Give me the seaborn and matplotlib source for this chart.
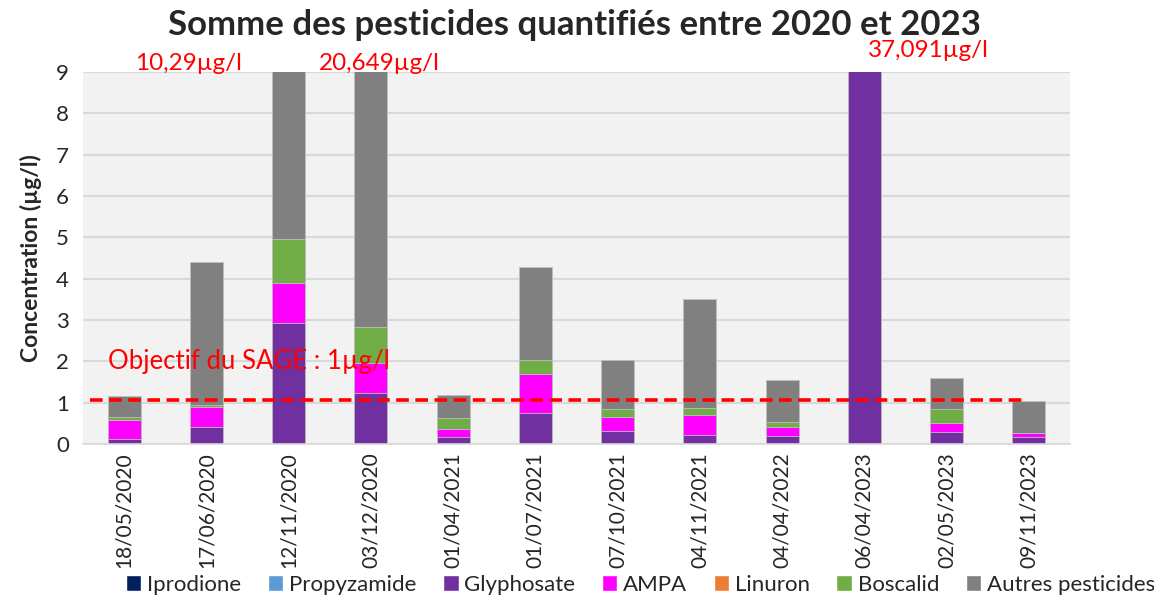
import numpy as np
import pandas as pd
import matplotlib
matplotlib.use('Agg')
import matplotlib.pyplot as plt
import seaborn as sns
from matplotlib.patches import Patch

sns.set_style('white')
plt.rcParams['font.family'] = ['Lato', 'DejaVu Sans']

# Data (µg/l)
dates = ['18/05/2020', '17/06/2020', '12/11/2020', '03/12/2020', '01/04/2021', '01/07/2021',
         '07/10/2021', '04/11/2021', '04/04/2022', '06/04/2023', '02/05/2023', '09/11/2023']
iprodione = [0, 0, 0, 0, 0, 0, 0, 0, 0, 0, 0, 0]
propyzamide = [0, 0, 0, 0, 0, 0, 0, 0, 0, 0, 0, 0]
glyphosate = [0.11, 0.42, 2.92, 1.23, 0.16, 0.74, 0.32, 0.22, 0.20, 37.091, 0.30, 0.16]
ampa = [0.47, 0.47, 0.98, 0.74, 0.21, 0.96, 0.34, 0.47, 0.20, 0, 0.20, 0.10]
linuron = [0, 0, 0, 0, 0, 0, 0, 0, 0, 0, 0, 0]
boscalid = [0.07, 0.05, 1.05, 0.87, 0.26, 0.33, 0.18, 0.17, 0.12, 0, 0.34, 0]
autres = [0.51, 3.46, 5.34, 17.809, 0.56, 2.24, 1.19, 2.64, 1.03, 0, 0.75, 0.79]

objectif = 1.07
totals_text = ['10,29µg/l', '20,649µg/l', '37,091µg/l']
totals_pos = [(0.78, 9.2), (3.10, 9.2), (9.78, 9.52)]

series = ['Iprodione', 'Propyzamide', 'Glyphosate', 'AMPA', 'Linuron', 'Boscalid', 'Autres pesticides']
colors = ['#002060', '#5B9BD5', '#7030A0', '#FF00FF', '#ED7D31', '#70AD47', '#808080']

df = pd.DataFrame({'Date': dates, 'Iprodione': iprodione, 'Propyzamide': propyzamide,
                   'Glyphosate': glyphosate, 'AMPA': ampa, 'Linuron': linuron,
                   'Boscalid': boscalid, 'Autres pesticides': autres})
cum = df[series].cumsum(axis=1)
cum['Date'] = df['Date']

fig = plt.figure(figsize=(11.54, 5.97), dpi=100)
ax = fig.add_axes([0.0719, 0.2563, 0.8553, 0.6231])
ax.set_facecolor('#F2F2F2')

# stacked bars: draw cumulative heights from the top layer down
for s, c in reversed(list(zip(series, colors))):
    sns.barplot(data=cum, x='Date', y=s, color=c, width=0.4, saturation=1,
                edgecolor='#BFBFBF', linewidth=0.6, ax=ax, order=dates, zorder=2)

ax.plot([-0.41, 10.92], [objectif, objectif], color='#FF0000', linestyle=(0, (3.5, 1.8)),
        linewidth=2.6, zorder=3)
ax.text(-0.2, 2.0, 'Objectif du SAGE : 1µg/l', color='#FF0000', fontsize=18.5,
        va='center', ha='left', zorder=4)

for t, (x, y) in zip(totals_text, totals_pos):
    ax.text(x, y, t, color='#FF0000', fontsize=17.5, ha='center', va='center', clip_on=False)

ax.set_ylim(0, 9)
ax.set_xlim(-0.5, len(dates) - 0.5)
ax.set_yticks(range(0, 10))
ax.yaxis.grid(True, color='#D9D9D9', linewidth=1.5, zorder=0)
ax.set_axisbelow(True)
for sp in ['top', 'right', 'left']:
    ax.spines[sp].set_visible(False)
ax.spines['bottom'].set_color('#D9D9D9')
ax.spines['bottom'].set_linewidth(1.2)

ax.set_xticks(range(len(dates)))
ax.set_xticklabels(dates, rotation=90, fontsize=15)
ax.set_xticks(np.arange(-0.5, len(dates)), minor=True)
ax.tick_params(axis='x', which='major', length=0, pad=6)
ax.tick_params(axis='x', which='minor', length=7, color='#D9D9D9', width=1.2)
ax.tick_params(axis='y', length=0, labelsize=16, pad=10)
ax.set_xlabel('')
ax.set_ylabel('Concentration (µg/l)', fontsize=16.5, fontweight='bold', labelpad=10)

fig.suptitle('Somme des pesticides quantifiés entre 2020 et 2023', fontsize=25,
             fontweight='bold', x=0.498, y=0.985)

handles = [Patch(facecolor=c, label=s) for s, c in zip(series, colors)]
fig.legend(handles=handles, loc='lower center', bbox_to_anchor=(0.555, -0.03), ncol=7,
           frameon=False, fontsize=16, handlelength=0.7, handleheight=0.7,
           handletextpad=0.25, columnspacing=1.2)

fig.savefig('out.png', dpi=100)
